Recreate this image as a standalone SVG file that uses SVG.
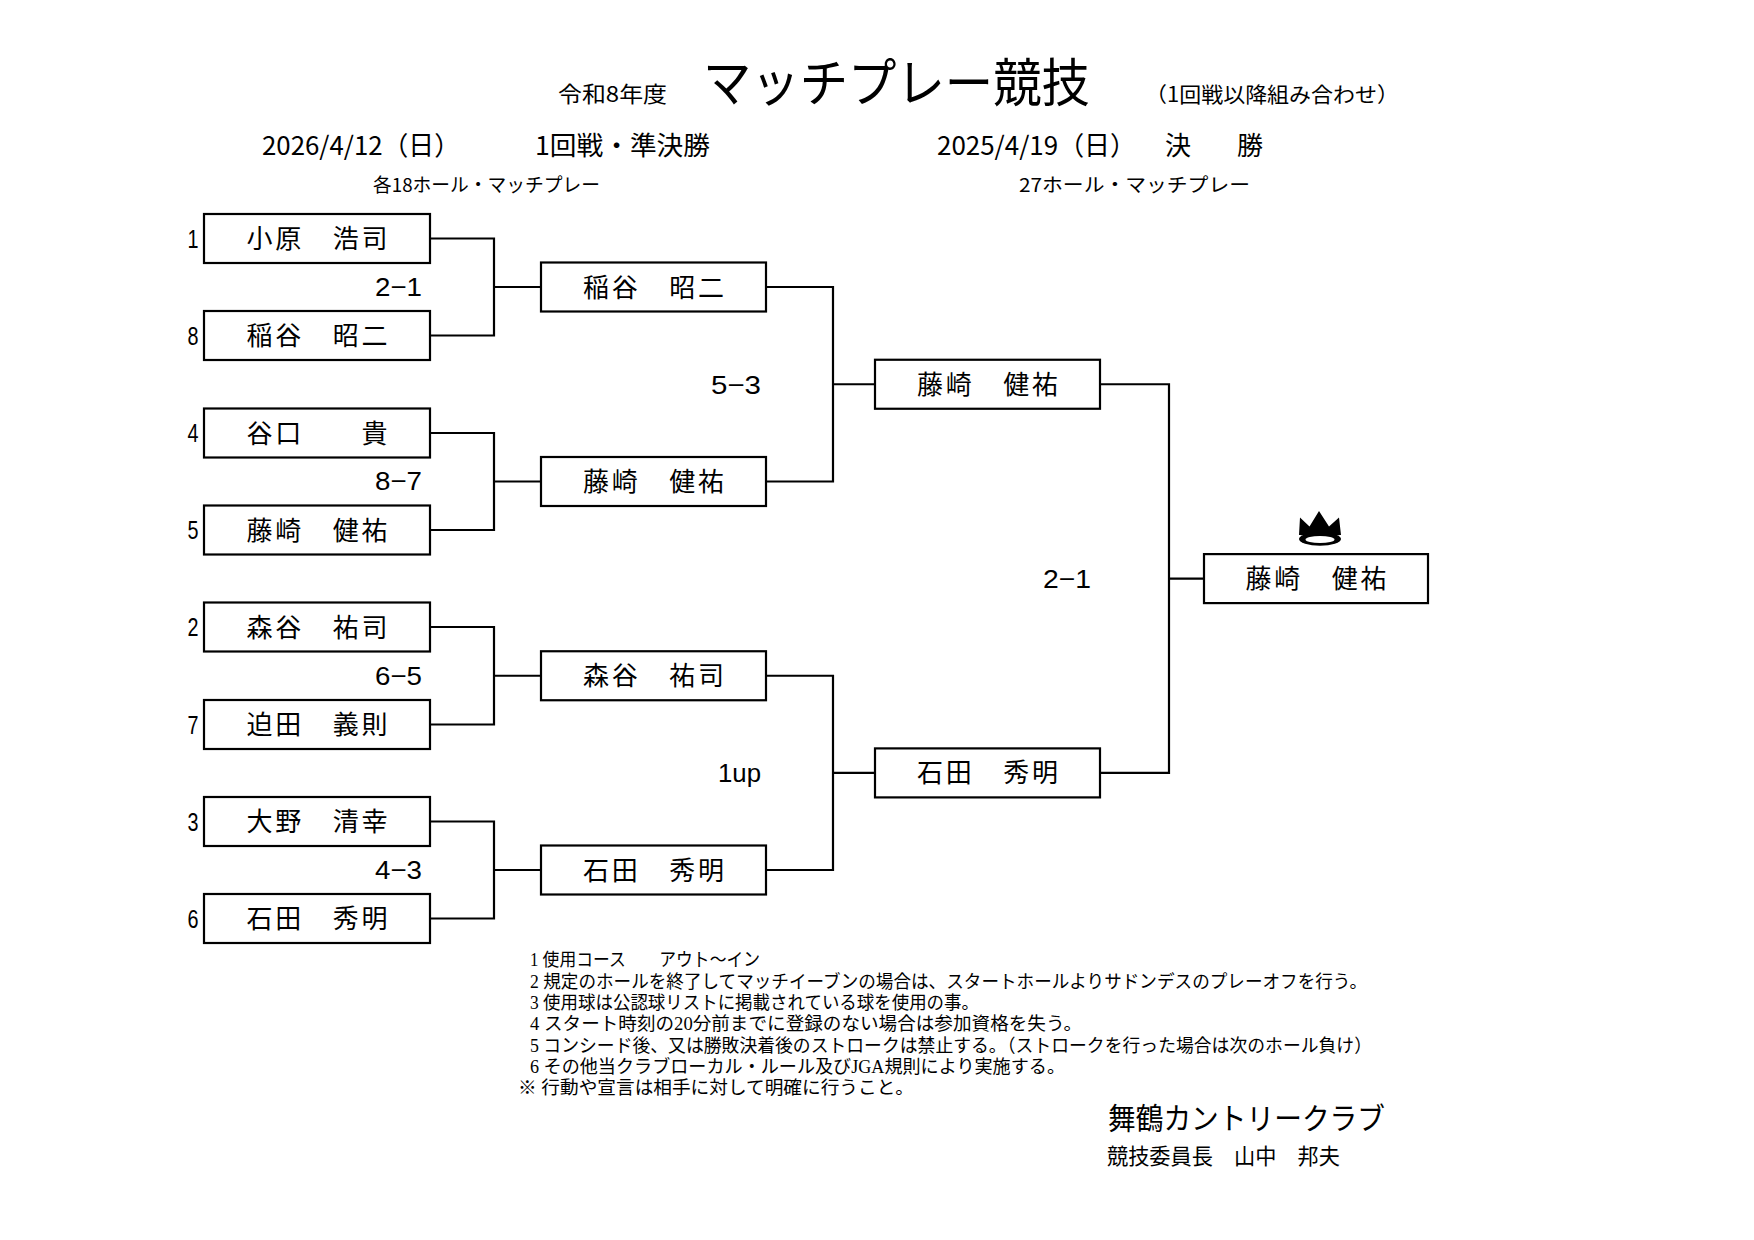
<svg xmlns="http://www.w3.org/2000/svg" width="1754" height="1240" viewBox="0 0 1754 1240">
<style>
.bg{fill:#fff}
.box{fill:#fff;stroke:#000;stroke-width:2.2}
.conn{fill:none;stroke:#000;stroke-width:2.2}
.jp{font-family:"Noto Sans CJK JP","Noto Sans",sans-serif;fill:#000}
.name{font-family:"Noto Sans CJK JP",sans-serif;font-size:26px;text-anchor:middle;fill:#000}
.seed{font-family:"Liberation Sans","Noto Sans CJK JP",sans-serif;font-size:25px;text-anchor:middle;fill:#000}
.score{font-family:"Liberation Sans","Noto Sans CJK JP",sans-serif;font-size:26px;text-anchor:end;fill:#000}
.note{font-family:"Liberation Serif","Noto Sans CJK JP",serif;font-size:18.5px;fill:#000}
</style>
<rect class="bg" x="0" y="0" width="1754" height="1240"/>

<g id="header">
<text class="jp" x="558" y="102" font-size="22" textLength="109" lengthAdjust="spacingAndGlyphs">令和8年度</text>
<text class="jp" x="703" y="102" font-size="52" textLength="387" lengthAdjust="spacingAndGlyphs">マッチプレー競技</text>
<text class="jp" x="1145" y="102" font-size="21" textLength="254" lengthAdjust="spacingAndGlyphs">（1回戦以降組み合わせ）</text>
<text class="jp" x="262" y="155" font-size="26" textLength="198" lengthAdjust="spacingAndGlyphs">2026/4/12（日）</text>
<text class="jp" x="535" y="155" font-size="26" textLength="175" lengthAdjust="spacingAndGlyphs">1回戦・準決勝</text>
<text class="jp" x="937" y="155" font-size="26" textLength="199" lengthAdjust="spacingAndGlyphs">2025/4/19（日）</text>
<text class="jp" x="1165" y="155" font-size="26" textLength="98" lengthAdjust="spacing">決　勝</text>
<text class="jp" x="373" y="192" font-size="19" textLength="227" lengthAdjust="spacingAndGlyphs">各18ホール・マッチプレー</text>
<text class="jp" x="1019" y="192" font-size="19" textLength="231" lengthAdjust="spacingAndGlyphs">27ホール・マッチプレー</text>
</g>

<g id="connectors">
<path class="conn" d="M430,238.5 H494 V335.5 H430 M494,287 H541"/>
<path class="conn" d="M430,433 H494 V530 H430 M494,481.5 H541"/>
<path class="conn" d="M430,627 H494 V724.5 H430 M494,675.75 H541"/>
<path class="conn" d="M430,821.5 H494 V918.5 H430 M494,870 H541"/>
<path class="conn" d="M766,287 H833 V481.5 H766 M833,384.25 H875"/>
<path class="conn" d="M766,675.75 H833 V870 H766 M833,772.9 H875"/>
<path class="conn" d="M1100,384.25 H1169 V772.9 H1100 M1169,578.6 H1204"/>
</g>

<g id="r1-1"><rect class="box" x="204" y="214" width="226" height="49"/><text class="seed" x="193" y="247.5" textLength="11" lengthAdjust="spacingAndGlyphs">1</text><text class="name" x="317" y="248" textLength="141" lengthAdjust="spacing">小原　浩司</text></g>
<g id="r1-8"><rect class="box" x="204" y="311" width="226" height="49"/><text class="seed" x="193" y="344.5" textLength="11" lengthAdjust="spacingAndGlyphs">8</text><text class="name" x="317" y="345" textLength="141" lengthAdjust="spacing">稲谷　昭二</text></g>
<g id="r1-4"><rect class="box" x="204" y="408.5" width="226" height="49"/><text class="seed" x="193" y="442" textLength="11" lengthAdjust="spacingAndGlyphs">4</text><text class="name" x="317" y="442.5" textLength="141" lengthAdjust="spacing">谷口　　貴</text></g>
<g id="r1-5"><rect class="box" x="204" y="505.5" width="226" height="49"/><text class="seed" x="193" y="539" textLength="11" lengthAdjust="spacingAndGlyphs">5</text><text class="name" x="317" y="539.5" textLength="141" lengthAdjust="spacing">藤崎　健祐</text></g>
<g id="r1-2"><rect class="box" x="204" y="602.5" width="226" height="49"/><text class="seed" x="193" y="636" textLength="11" lengthAdjust="spacingAndGlyphs">2</text><text class="name" x="317" y="636.5" textLength="141" lengthAdjust="spacing">森谷　祐司</text></g>
<g id="r1-7"><rect class="box" x="204" y="700" width="226" height="49"/><text class="seed" x="193" y="733.5" textLength="11" lengthAdjust="spacingAndGlyphs">7</text><text class="name" x="317" y="734" textLength="141" lengthAdjust="spacing">迫田　義則</text></g>
<g id="r1-3"><rect class="box" x="204" y="797" width="226" height="49"/><text class="seed" x="193" y="830.5" textLength="11" lengthAdjust="spacingAndGlyphs">3</text><text class="name" x="317" y="831" textLength="141" lengthAdjust="spacing">大野　清幸</text></g>
<g id="r1-6"><rect class="box" x="204" y="894" width="226" height="49"/><text class="seed" x="193" y="927.5" textLength="11" lengthAdjust="spacingAndGlyphs">6</text><text class="name" x="317" y="928" textLength="141" lengthAdjust="spacing">石田　秀明</text></g>

<g id="scores-r1">
<text class="score" x="422" y="295.5" textLength="47" lengthAdjust="spacingAndGlyphs">2−1</text>
<text class="score" x="422" y="490" textLength="47" lengthAdjust="spacingAndGlyphs">8−7</text>
<text class="score" x="422" y="684.5" textLength="47" lengthAdjust="spacingAndGlyphs">6−5</text>
<text class="score" x="422" y="878.5" textLength="47" lengthAdjust="spacingAndGlyphs">4−3</text>
</g>

<g id="r2-1"><rect class="box" x="541" y="262.5" width="225" height="49"/><text class="name" x="653.5" y="296.5" textLength="141" lengthAdjust="spacing">稲谷　昭二</text></g>
<g id="r2-2"><rect class="box" x="541" y="457" width="225" height="49"/><text class="name" x="653.5" y="491" textLength="141" lengthAdjust="spacing">藤崎　健祐</text></g>
<g id="r2-3"><rect class="box" x="541" y="651.25" width="225" height="49"/><text class="name" x="653.5" y="685.25" textLength="141" lengthAdjust="spacing">森谷　祐司</text></g>
<g id="r2-4"><rect class="box" x="541" y="845.5" width="225" height="49"/><text class="name" x="653.5" y="879.5" textLength="141" lengthAdjust="spacing">石田　秀明</text></g>

<g id="scores-r2">
<text class="score" x="761" y="393.5" textLength="50" lengthAdjust="spacingAndGlyphs">5−3</text>
<text class="score" x="761" y="782" textLength="43" lengthAdjust="spacingAndGlyphs">1up</text>
</g>

<g id="r3-1"><rect class="box" x="875" y="359.75" width="225" height="49"/><text class="name" x="987.5" y="393.75" textLength="141" lengthAdjust="spacing">藤崎　健祐</text></g>
<g id="r3-2"><rect class="box" x="875" y="748.4" width="225" height="49"/><text class="name" x="987.5" y="782.4" textLength="141" lengthAdjust="spacing">石田　秀明</text></g>

<g id="score-final">
<text class="score" x="1091" y="588" textLength="48" lengthAdjust="spacingAndGlyphs">2−1</text>
</g>

<g id="champion">
<path d="M1299,535 L1300,517.5 L1309.5,526.5 L1319,511 L1329,526.5 L1339,517.5 L1341,535 Z" fill="#000"/>
<ellipse cx="1320" cy="539" rx="21" ry="6.8" fill="#000"/>
<ellipse cx="1320" cy="539.5" rx="14.5" ry="3.6" fill="#fff"/>
<rect class="box" x="1204" y="554.1" width="224" height="49"/>
<text class="name" x="1316" y="588.1" textLength="141" lengthAdjust="spacing">藤崎　健祐</text>
</g>

<g id="notes">
<text class="note" x="530" y="966" textLength="230" lengthAdjust="spacingAndGlyphs">1 使用コース　　アウト～イン</text>
<text class="note" x="530" y="988" textLength="837" lengthAdjust="spacingAndGlyphs">2 規定のホールを終了してマッチイーブンの場合は、スタートホールよりサドンデスのプレーオフを行う。</text>
<text class="note" x="530" y="1009" textLength="449" lengthAdjust="spacingAndGlyphs">3 使用球は公認球リストに掲載されている球を使用の事。</text>
<text class="note" x="530" y="1030" textLength="552" lengthAdjust="spacingAndGlyphs">4 スタート時刻の20分前までに登録のない場合は参加資格を失う。</text>
<text class="note" x="530" y="1052" textLength="842" lengthAdjust="spacingAndGlyphs">5 コンシード後、又は勝敗決着後のストロークは禁止する。（ストロークを行った場合は次のホール負け）</text>
<text class="note" x="530" y="1073" textLength="535" lengthAdjust="spacingAndGlyphs">6 その他当クラブローカル・ルール及びJGA規則により実施する。</text>
<text class="note" x="518" y="1094" textLength="396" lengthAdjust="spacingAndGlyphs">※ 行動や宣言は相手に対して明確に行うこと。</text>
</g>

<g id="footer">
<text class="jp" x="1108" y="1129" font-size="30" textLength="277" lengthAdjust="spacingAndGlyphs">舞鶴カントリークラブ</text>
<text class="jp" x="1107" y="1164" font-size="22" textLength="233" lengthAdjust="spacingAndGlyphs">競技委員長　山中　邦夫</text>
</g>
</svg>
